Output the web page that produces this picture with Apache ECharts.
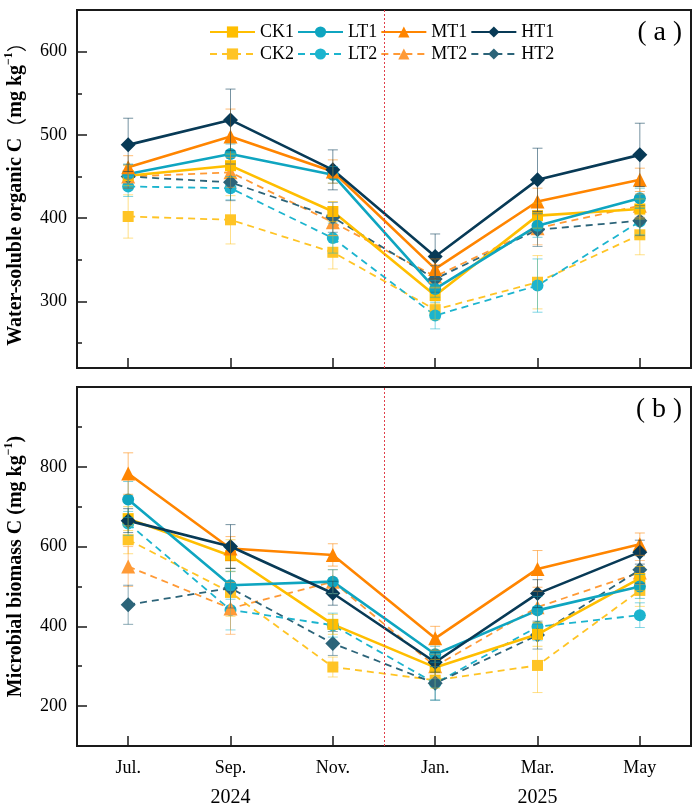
<!DOCTYPE html>
<html><head><meta charset="utf-8">
<script src="https://cdn.jsdelivr.net/npm/echarts@6/dist/echarts.min.js"></script>
<style>html,body{margin:0;padding:0;background:#fff}#c{width:699px;height:811px}</style>
</head><body><div id="c"></div>
<script>
const months = ['Jul.', 'Sep.', 'Nov.', 'Jan.', 'Mar.', 'May'];
const years = ['', '2024', '', '', '2025', ''];
const seriesNames = ['CK1', 'LT1', 'MT1', 'HT1', 'CK2', 'LT2', 'MT2', 'HT2'];

// Panel (a) Water-soluble organic C
const wsoc_CK1 = [451, 463, 408, 307, 403, 411];
const wsoc_LT1 = [453, 477, 452, 315, 391, 424];
const wsoc_MT1 = [461, 498, 456, 339, 420, 446];
const wsoc_HT1 = [488, 518, 458, 354, 446, 476];
const wsoc_CK2 = [402, 398, 359, 290, 323, 380];
const wsoc_LT2 = [438, 436, 376, 283, 319, 396];
const wsoc_MT2 = [450, 455, 395, 330, 388, 415];
const wsoc_HT2 = [450, 443, 401, 327, 386, 397];
const wsocErr_CK1 = [12, 14, 12, 10, 15, 12];
const wsocErr_LT1 = [12, 12, 10, 10, 14, 12];
const wsocErr_MT1 = [14, 33, 14, 12, 16, 14];
const wsocErr_HT1 = [32, 37, 24, 27, 38, 38];
const wsocErr_CK2 = [26, 29, 20, 12, 32, 24];
const wsocErr_LT2 = [12, 14, 18, 16, 32, 16];
const wsocErr_MT2 = [14, 18, 16, 14, 20, 14];
const wsocErr_HT2 = [14, 22, 18, 16, 20, 18];

// Panel (b) Microbial biomass C
const mbc_CK1 = [670, 577, 405, 297, 380, 520];
const mbc_LT1 = [718, 503, 512, 330, 440, 500];
const mbc_MT1 = [783, 595, 579, 370, 544, 606];
const mbc_HT1 = [665, 600, 483, 310, 482, 586];
const mbc_CK2 = [617, 485, 298, 265, 302, 490];
const mbc_LT2 = [658, 441, 403, 257, 399, 428];
const mbc_MT2 = [550, 445, 512, 300, 448, 535];
const mbc_HT2 = [454, 496, 357, 257, 378, 542];
const mbcErr_CK1 = [30, 40, 25, 20, 30, 30];
const mbcErr_LT1 = [45, 35, 30, 20, 35, 30];
const mbcErr_MT1 = [52, 30, 28, 30, 46, 28];
const mbcErr_HT1 = [30, 55, 30, 25, 35, 30];
const mbcErr_CK2 = [35, 60, 25, 20, 68, 40];
const mbcErr_LT2 = [30, 50, 30, 42, 35, 31];
const mbcErr_MT2 = [50, 65, 30, 30, 40, 30];
const mbcErr_HT2 = [49, 50, 30, 42, 35, 35];

const panelA = {CK1: wsoc_CK1, LT1: wsoc_LT1, MT1: wsoc_MT1, HT1: wsoc_HT1, CK2: wsoc_CK2, LT2: wsoc_LT2, MT2: wsoc_MT2, HT2: wsoc_HT2};
const panelAErr = {CK1: wsocErr_CK1, LT1: wsocErr_LT1, MT1: wsocErr_MT1, HT1: wsocErr_HT1, CK2: wsocErr_CK2, LT2: wsocErr_LT2, MT2: wsocErr_MT2, HT2: wsocErr_HT2};
const panelB = {CK1: mbc_CK1, LT1: mbc_LT1, MT1: mbc_MT1, HT1: mbc_HT1, CK2: mbc_CK2, LT2: mbc_LT2, MT2: mbc_MT2, HT2: mbc_HT2};
const panelBErr = {CK1: mbcErr_CK1, LT1: mbcErr_LT1, MT1: mbcErr_MT1, HT1: mbcErr_HT1, CK2: mbcErr_CK2, LT2: mbcErr_LT2, MT2: mbcErr_MT2, HT2: mbcErr_HT2};

const styles = {
  CK1: {color: '#FFBE00', symbol: 'rect', size: 11, dashed: false},
  LT1: {color: '#0FA5C0', symbol: 'circle', size: 12, dashed: false},
  MT1: {color: '#FF8500', symbol: 'triangle', size: 14, dashed: false},
  HT1: {color: '#083A56', symbol: 'diamond', size: 15, dashed: false},
  CK2: {color: '#FFC425', symbol: 'rect', size: 11, dashed: true},
  LT2: {color: '#1CB4CE', symbol: 'circle', size: 12, dashed: true},
  MT2: {color: '#FF9A36', symbol: 'triangle', size: 14, dashed: true},
  HT2: {color: '#2C6479', symbol: 'diamond', size: 15, dashed: true}
};
const drawOrder = ['CK2', 'LT2', 'MT2', 'HT2', 'CK1', 'LT1', 'MT1', 'HT1'];

const SERIF = '"Liberation Serif", "Times New Roman", serif';
const CJK = '"Noto Sans CJK SC"';

function errSeries(name, vals, errs, gi) {
  const col = styles[name].color;
  return {
    type: 'custom', name: name, xAxisIndex: gi * 2, yAxisIndex: gi * 2, z: 5, silent: true,
    data: vals.map((v, i) => [i, v, errs[i]]),
    encode: {x: 0, y: 1},
    renderItem: function (params, api) {
      const x = api.value(0), y = api.value(1), e = api.value(2);
      const hi = api.coord([x, y + e]);
      const lo = api.coord([x, y - e]);
      const w = 5;
      const st = {stroke: col, lineWidth: 1, opacity: 0.55};
      return {type: 'group', children: [
        {type: 'line', shape: {x1: hi[0], y1: hi[1], x2: lo[0], y2: lo[1]}, style: st},
        {type: 'line', shape: {x1: hi[0] - w, y1: hi[1], x2: hi[0] + w, y2: hi[1]}, style: st},
        {type: 'line', shape: {x1: lo[0] - w, y1: lo[1], x2: lo[0] + w, y2: lo[1]}, style: st}
      ]};
    }
  };
}

function lineSeries(name, vals, gi) {
  const s = styles[name];
  return {
    type: 'line', name: name, xAxisIndex: gi * 2, yAxisIndex: gi * 2, z: 3,
    data: vals, symbol: s.symbol, symbolSize: s.size, showSymbol: true,
    itemStyle: {color: s.color, opacity: 1},
    lineStyle: {color: s.color, width: s.dashed ? 1.8 : 2.6, type: s.dashed ? [7, 5] : 'solid'},
    emphasis: {disabled: true}, animation: false
  };
}

function vline(gi) {
  return {
    type: 'line', xAxisIndex: gi * 2 + 1, yAxisIndex: gi * 2, data: [], silent: true,
    markLine: {symbol: 'none', silent: true, label: {show: false}, animation: false,
      lineStyle: {color: '#E0404A', type: [2, 2], width: 1},
      data: [{xAxis: 2.5}]}
  };
}

const series = [];
[panelA, panelB].forEach((p, gi) => {
  const perr = gi === 0 ? panelAErr : panelBErr;
  series.push(vline(gi));
  drawOrder.forEach(n => series.push(lineSeries(n, p[n], gi)));
  drawOrder.forEach(n => series.push(errSeries(n, p[n], perr[n], gi)));
});

const grids = [
  {left: 77, right: 8, top: 10, height: 358, show: true, borderColor: '#1a1a1a', borderWidth: 2, outerBoundsMode: 'none', containLabel: false},
  {left: 77, right: 8, top: 387, height: 359, show: true, borderColor: '#1a1a1a', borderWidth: 2, outerBoundsMode: 'none', containLabel: false}
];

function catAxis(gi, showLabels) {
  return {
    type: 'category', gridIndex: gi, data: months, boundaryGap: true,
    axisLine: {show: true, onZero: false, lineStyle: {color: '#1a1a1a', width: 2}},
    axisTick: {show: true, inside: true, alignWithLabel: true, length: 10, lineStyle: {color: '#1a1a1a', width: 1.5}},
    axisLabel: {show: showLabels, margin: 11, color: '#000', fontFamily: SERIF, fontSize: 18,
      formatter: (v, i) => years[i] ? '{m|' + v + '}\n{y|' + years[i] + '}' : '{m|' + v + '}',
      rich: {m: {fontSize: 18, lineHeight: 22, fontFamily: SERIF, color: '#000'},
             y: {fontSize: 20, lineHeight: 37, fontFamily: SERIF, color: '#000'}}},
    splitLine: {show: false}
  };
}
function hiddenX(gi) {
  return {type: 'value', gridIndex: gi, min: -0.5, max: 5.5, show: false,
    axisLine: {show: false, onZero: false}, axisTick: {show: false}, axisLabel: {show: false}, splitLine: {show: false}};
}

function yAxisMain(gi, min, max, split, name) {
  return {
    type: 'value', gridIndex: gi, min: min, max: max, splitNumber: split, position: 'left',
    axisLine: {show: true, onZero: false, lineStyle: {color: '#1a1a1a', width: 2}},
    axisTick: {show: true, inside: true, length: 10, lineStyle: {color: '#1a1a1a', width: 1.5}},
    axisLabel: {showMinLabel: false, showMaxLabel: false, margin: 10, color: '#000', fontFamily: SERIF, fontSize: 18},
    splitLine: {show: false},
    name: name, nameLocation: 'middle', nameGap: 48,
    nameTextStyle: {fontFamily: SERIF, fontWeight: 'bold', fontSize: 20, color: '#000', lineHeight: 26,
      rich: {
        sup: {fontFamily: SERIF, fontWeight: 'bold', fontSize: 12, lineHeight: 12, verticalAlign: 'top', color: '#000'},
        p: {fontFamily: CJK, fontWeight: 'normal', fontSize: 20, lineHeight: 26, color: '#000'}
      }}
  };
}
function yAxisMinor(gi, min, max, split) {
  return {
    type: 'value', gridIndex: gi, min: min, max: max, splitNumber: split, position: 'left', offset: 0,
    axisLine: {show: false, onZero: false},
    axisTick: {show: true, inside: true, length: 5, lineStyle: {color: '#1a1a1a', width: 1.5}},
    axisLabel: {show: false}, splitLine: {show: false}
  };
}

const panelTag = (letter) => ({
  text: '{p|(}{t|' + letter + '}{p|)}', fill: '#000',
  rich: {p: {fontFamily: SERIF, fontSize: 27, fill: '#000'},
         t: {fontFamily: SERIF, fontSize: 28, fill: '#000', padding: [0, 7, 0, 7]}}
});

const option = {
  backgroundColor: '#fff',
  animation: false,
  grid: grids,
  xAxis: [catAxis(0, false), hiddenX(0), catAxis(1, true), hiddenX(1)],
  yAxis: [
    yAxisMain(0, 220, 650, 5, 'Water-soluble organic C{p|（}mg kg{sup|−1}{p|）}'),
    yAxisMinor(0, 220, 650, 9),
    yAxisMain(1, 100, 1000, 5, 'Microbial biomass C (mg kg{sup|−1})'),
    yAxisMinor(1, 100, 1000, 9)
  ],
  legend: [
    {data: seriesNames.slice(0, 4), left: 204, top: 18, orient: 'horizontal', itemWidth: 45, itemHeight: 14, itemGap: 3,
      textStyle: {fontFamily: SERIF, fontSize: 18, color: '#000'}, selectedMode: false},
    {data: seriesNames.slice(4), left: 204, top: 40, orient: 'horizontal', itemWidth: 45, itemHeight: 14, itemGap: 3,
      textStyle: {fontFamily: SERIF, fontSize: 18, color: '#000'}, selectedMode: false}
  ],
  graphic: [
    {type: 'text', right: 17, top: 19, style: panelTag('a')},
    {type: 'text', right: 17, top: 396, style: panelTag('b')}
  ],
  series: series
};

const chart = echarts.init(document.getElementById('c'), null, {renderer: 'canvas'});
chart.setOption(option);
</script>
</body></html>
